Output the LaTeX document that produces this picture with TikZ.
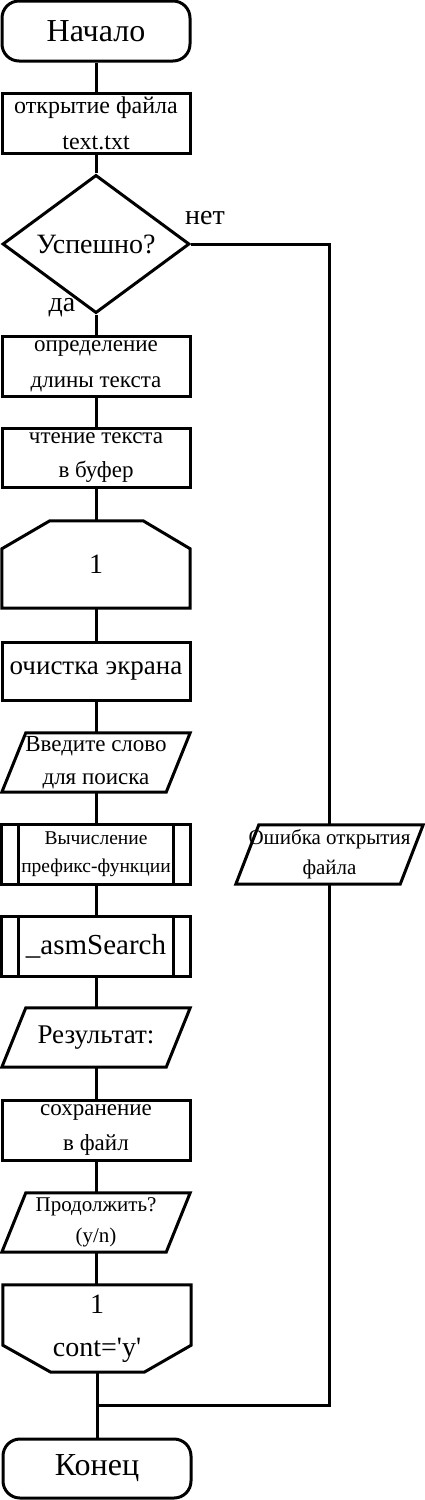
\documentclass[tikz,border=0pt]{standalone}
\usepackage{fontspec}
\setmainfont{Liberation Serif}
\usetikzlibrary{shapes.geometric}
\tikzset{
  ln/.style={line width=3pt},
  blk/.style={inner sep=0pt, align=center, minimum height=60pt, minimum width=188pt},
  term/.style={blk, ln, draw, rounded corners=17pt},
  proc/.style={blk, ln, draw},
  fs/.style 2 args={font=\fontsize{#1}{#2}\selectfont},
}
\newcommand\ioshape[2]{\draw[ln] ([xshift=#2]#1.north west) -- (#1.north east) -- ([xshift=-#2]#1.south east) -- (#1.south west) -- cycle;}
\newcommand\predefshape[1]{\draw[ln] (#1.north west) rectangle (#1.south east);
  \draw[ln] ([xshift=17pt]#1.north west) -- ([xshift=17pt]#1.south west);
  \draw[ln] ([xshift=-17pt]#1.north east) -- ([xshift=-17pt]#1.south east);}
\begin{document}
\begin{tikzpicture}[x=1pt,y=-1pt]
\useasboundingbox (0,0) rectangle (425,1500);
\node[term, fs={32}{38}] (start) at (96,31) {Начало};
\node[proc, fs={24}{36}] (open) at (96,123) {открытие файла\\text.txt};
\node[diamond, ln, draw, inner sep=0pt, minimum width=187pt, minimum height=116pt, fs={28}{32}] (ok) at (96,244) {Успешно?};
\node[proc, fs={23}{36}] (len) at (96,366) {определение\\длины текста};
\node[proc, minimum height=59pt, fs={23}{34}] (read) at (96,457.5) {чтение текста\\в буфер};
\node[blk, minimum height=87pt, fs={28}{34}] (loopa) at (96,564.5) {1};
\node[proc, minimum height=58pt, fs={27}{32}] (cls) at (96,671) {очистка экрана};
\node[blk, minimum height=59pt, fs={23}{33}] (word) at (96,762.5) {Введите слово\\для поиска};
\node[blk, minimum height=59pt, fs={19.5}{28}] (pref) at (96,854.5) {Вычисление\\префикс-функции};
\node[blk, minimum height=59pt, fs={29}{34}] (asm) at (96,946.5) {\_asmSearch};
\node[blk, minimum height=59pt, fs={27}{32}] (res) at (96,1037.5) {Результат:};
\node[proc, fs={23}{35}] (save) at (96,1130) {сохранение\\в файл};
\node[blk, minimum height=59pt, fs={21}{31}] (cont) at (96,1222.5) {Продолжить?\\(y/n)};
\node[blk, minimum height=87pt, fs={28}{43}] (loopb) at (97,1328.5) {1\\cont=\textquotesingle y\textquotesingle};
\node[term, minimum height=59pt, fs={32}{38}] (end) at (97,1468.5) {Конец};
\node[blk, minimum width=187pt, minimum height=59pt, fs={21}{30}] (err) at (329.5,854.5) {Ошибка открытия\\файла};
\node[fs={28}{32}] (no) at (205,218) {нет};
\node[fs={28}{32}] (yes) at (62,308) {да};
% outlines of special shapes
\draw[ln] (loopa.south west) -- ([yshift=-28pt]loopa.north west) -- ([xshift=48pt]loopa.north west) -- ([xshift=-47pt]loopa.north east) -- ([yshift=-28pt]loopa.north east) -- (loopa.south east) -- cycle;
\draw[ln] (loopb.north west) -- (loopb.north east) -- ([yshift=27pt]loopb.south east) -- ([xshift=-47pt]loopb.south east) -- ([xshift=48pt]loopb.south west) -- ([yshift=27pt]loopb.south west) -- cycle;
\ioshape{word}{24pt}
\ioshape{res}{24pt}
\ioshape{cont}{24pt}
\ioshape{err}{23pt}
\predefshape{pref}
\predefshape{asm}
% connectors
\coordinate (j) at (97,1405.5);
\draw[ln] (start) -- (open);
\draw[ln] (open) -- (ok);
\draw[ln] (ok) -- (len);
\draw[ln] (len) -- (read);
\draw[ln] (read) -- (loopa);
\draw[ln] (loopa) -- (cls);
\draw[ln] (cls) -- (word);
\draw[ln] (word) -- (pref);
\draw[ln] (pref) -- (asm);
\draw[ln] (asm) -- (res);
\draw[ln] (res) -- (save);
\draw[ln] (save) -- (cont);
\draw[ln] (cont.south) -- (cont.south |- loopb.north);
\draw[ln] (loopb) -- (end);
\draw[ln] (ok.east) -| (err.north);
\draw[ln] (err.south) |- (j);
\end{tikzpicture}
\end{document}
